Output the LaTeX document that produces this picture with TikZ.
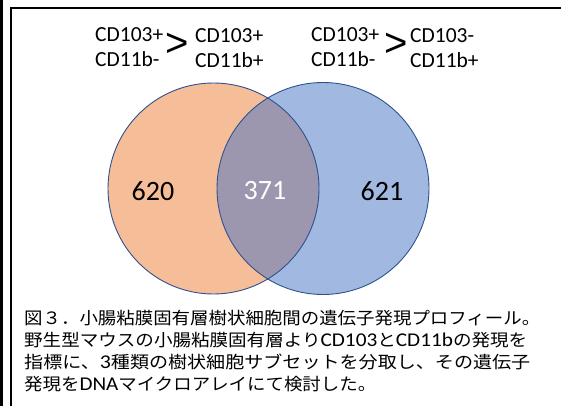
\documentclass[tikz,border=0pt]{standalone}
\usepackage{fontspec}
\usepackage{graphicx}
\setmainfont{Carlito}
\newfontfamily\cjk{Noto Sans CJK JP}
\newfontfamily\gtfont{Liberation Sans}
\newcommand{\latn}[1]{{\fontsize{19.5}{20}\selectfont #1}}
\definecolor{vennorange}{HTML}{ED7D31}
\definecolor{vennblue}{HTML}{4472C4}
\definecolor{vennline}{HTML}{2F528F}
\tikzset{
  setlabel/.style={anchor=base west, inner sep=0pt, text height=15pt, text depth=4pt, font=\fontsize{21.5}{24}\selectfont},
  gtsign/.style={inner sep=0pt, text height=12pt, text depth=0pt, font=\gtfont\fontsize{40}{42}\selectfont},
  count/.style={inner sep=0pt, font=\fontsize{28}{30}\selectfont},
  capline/.style={anchor=base west, inner sep=0pt, font=\fontsize{17}{20}\selectfont},
  frameline/.style={draw=black, line width=2pt}
}
\begin{document}
\begin{tikzpicture}[x=1pt,y=-1pt]
\useasboundingbox (0,0) rectangle (561,406);
% frame
\fill[black] (0,0) rectangle (2.7,406);
\draw[frameline] (11,406) -- (11,8.3) -- (561,8.3);
% circles
\fill[vennorange, fill opacity=0.5] (213.5,188.5) circle (105.5);
\fill[vennblue, fill opacity=0.5] (323,188.5) circle (106);
\node[circle, draw=vennline, line width=0.9pt, minimum size=211pt, inner sep=0pt] (setA) at (213.5,188.5) {};
\node[circle, draw=vennline, line width=0.9pt, minimum size=212pt, inner sep=0pt] (setB) at (323,188.5) {};
% counts
\node[count] (nA) at (153,191) {620};
\node[count, text=white] (nAB) at (265,191) {371};
\node[count] (nB) at (382,191) {621};
% top labels
\node[setlabel] (a1) at (95,42) {CD103+};
\node[setlabel] (a2) at (95,67) {CD11b-};
\node[gtsign, anchor=base] (g1) at (177,57) {>};
\node[setlabel] (b1) at (195,42.5) {CD103+};
\node[setlabel] (b2) at (195,67.5) {CD11b+};
\node[setlabel] (c1) at (311,42) {CD103+};
\node[setlabel] (c2) at (311,67) {CD11b-};
\node[gtsign, anchor=base] (g2) at (396,57) {>};
\node[setlabel] (d1) at (410,42.5) {CD103-};
\node[setlabel] (d2) at (410,67.5) {CD11b+};
% caption
\node[capline] (cap1) at (24,324) {\resizebox{516pt}{\height}{\cjk 図３．小腸粘膜固有層樹状細胞間の遺伝子発現プロフィール。}};
\node[capline] (cap2) at (24,346) {\resizebox{503pt}{\height}{{\cjk 野生型マウスの小腸粘膜固有層より}\latn{CD103}{\cjk と}\latn{CD11b}{\cjk の発現を}}};
\node[capline] (cap3) at (24,368) {\resizebox{506pt}{\height}{{\cjk 指標に、}\latn{3}{\cjk 種類の樹状細胞サブセットを分取し、その遺伝子}}};
\node[capline] (cap4) at (24,390) {\resizebox{352pt}{\height}{{\cjk 発現を}\latn{DNA}{\cjk マイクロアレイにて検討した。}}};
\end{tikzpicture}
\end{document}
